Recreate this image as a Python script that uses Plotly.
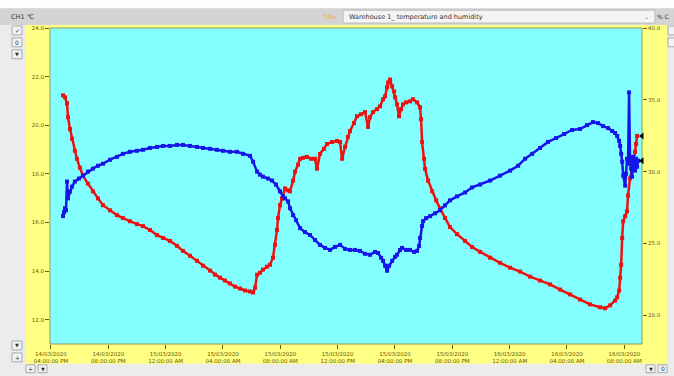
import pandas as pd
import plotly.graph_objects as go

# ---- logged readings (elapsed hours since 14/03/2020 04:00 PM) ----
red_hours = [0.84, 0.98, 1.12, 1.19, 1.33, 1.47, 1.67, 1.81, 2.02, 2.23, 2.58, 2.93, 3.28, 3.63,
             4.12, 4.61, 5.02, 5.51, 6.00, 6.42, 6.91, 7.40, 7.82, 8.30, 8.79, 9.21, 9.70, 10.19,
             10.61, 11.10, 11.44, 11.79, 12.14, 12.49, 12.84, 13.19, 13.54, 13.89, 14.10, 14.24,
             14.38, 14.58, 14.79, 15.07, 15.28, 15.49, 15.63, 15.77, 15.84, 15.98, 16.12, 16.33,
             16.54, 16.68, 16.89, 17.03, 17.24, 17.38, 17.59, 17.86, 18.14, 18.42, 18.56, 18.77,
             19.05, 19.26, 19.61, 19.96, 20.17, 20.31, 20.52, 20.72, 20.86, 21.14, 21.35, 21.63,
             21.91, 22.12, 22.26, 22.47, 22.75, 22.96, 23.17, 23.31, 23.45, 23.52, 23.66, 23.80,
             23.94, 24.01, 24.14, 24.28, 24.42, 24.56, 24.77, 25.05, 25.26, 25.54, 25.75, 25.82,
             25.89, 26.03, 26.10, 26.31, 26.59, 26.87, 27.14, 27.49, 27.84, 28.33, 28.89, 29.38,
             29.94, 30.64, 31.33, 32.03, 32.73, 33.43, 34.12, 34.82, 35.52, 36.22, 36.91, 37.61,
             38.31, 38.66, 39.01, 39.36, 39.50, 39.64, 39.71, 39.78, 39.85, 39.92, 40.06, 40.19,
             40.26, 40.40, 40.54, 40.61, 40.75, 40.82, 40.89]
red_temp = [21.23, 21.15, 20.90, 20.33, 19.84, 19.44, 18.95, 18.62, 18.25, 17.93, 17.60, 17.28,
            16.99, 16.71, 16.50, 16.30, 16.18, 16.05, 15.93, 15.85, 15.69, 15.48, 15.36, 15.24,
            15.04, 14.83, 14.63, 14.42, 14.22, 14.02, 13.85, 13.73, 13.61, 13.49, 13.36, 13.28,
            13.20, 13.16, 13.12, 13.32, 13.85, 13.93, 14.06, 14.18, 14.26, 14.55, 15.08, 15.69,
            16.18, 16.71, 16.99, 17.40, 17.32, 17.28, 17.72, 18.09, 18.38, 18.62, 18.66, 18.70,
            18.62, 18.62, 18.21, 18.82, 19.03, 19.23, 19.31, 19.35, 19.31, 18.62, 19.11, 19.52,
            19.76, 20.09, 20.37, 20.45, 20.54, 19.93, 20.33, 20.54, 20.66, 20.78, 21.07, 21.19,
            21.56, 21.76, 21.88, 21.60, 21.39, 21.15, 20.86, 20.37, 20.66, 20.86, 20.94, 20.98,
            21.07, 20.94, 20.74, 20.25, 19.31, 18.62, 18.21, 17.72, 17.28, 16.91, 16.58, 16.18,
            15.81, 15.52, 15.24, 14.99, 14.79, 14.55, 14.34, 14.14, 13.98, 13.77, 13.61, 13.45,
            13.24, 13.04, 12.83, 12.63, 12.51, 12.47, 12.59, 12.79, 12.92, 13.20, 13.73, 14.26,
            15.36, 16.05, 16.26, 16.46, 17.11, 17.81, 18.21, 18.42, 18.91, 19.23, 19.56]

blue_hours = [0.84, 0.91, 0.98, 1.05, 1.12, 1.19, 1.33, 1.47, 1.67, 1.95, 2.23, 2.58, 2.93, 3.28,
              3.63, 4.12, 4.61, 5.02, 5.51, 6.00, 6.42, 6.91, 7.40, 7.82, 8.30, 8.79, 9.21, 9.70,
              10.19, 10.61, 11.10, 11.58, 12.00, 12.49, 12.98, 13.40, 13.89, 14.10, 14.38, 14.58,
              14.79, 15.14, 15.42, 15.70, 15.98, 16.19, 16.33, 16.54, 16.68, 16.89, 17.10, 17.38,
              17.72, 18.07, 18.42, 18.77, 19.12, 19.47, 19.82, 20.17, 20.52, 20.86, 21.21, 21.56,
              21.91, 22.26, 22.61, 22.82, 23.03, 23.17, 23.31, 23.45, 23.59, 23.80, 24.01, 24.14,
              24.35, 24.49, 24.77, 25.05, 25.33, 25.54, 25.68, 25.75, 25.89, 25.96, 26.17, 26.45,
              26.80, 27.14, 27.49, 27.84, 28.33, 28.89, 29.38, 29.94, 30.64, 31.33, 32.03, 32.59,
              33.08, 33.57, 34.12, 34.68, 35.24, 35.80, 36.36, 36.91, 37.40, 37.82, 38.17, 38.52,
              38.87, 39.15, 39.36, 39.50, 39.64, 39.71, 39.78, 39.85, 39.92, 40.06, 40.12, 40.19,
              40.26, 40.33, 40.40, 40.47, 40.54, 40.61, 40.68, 40.75, 40.82, 40.89, 40.96]
blue_rh = [26.90, 27.17, 27.45, 27.31, 29.31, 28.14, 28.62, 28.96, 29.31, 29.52, 29.72, 30.00,
           30.21, 30.41, 30.55, 30.83, 31.03, 31.24, 31.38, 31.45, 31.52, 31.65, 31.72, 31.79,
           31.79, 31.86, 31.86, 31.79, 31.72, 31.65, 31.59, 31.52, 31.45, 31.38, 31.38, 31.24,
           31.10, 30.69, 30.00, 29.79, 29.65, 29.52, 29.38, 29.10, 28.62, 28.28, 28.14, 27.93,
           27.45, 26.97, 26.62, 26.07, 25.79, 25.59, 25.24, 24.90, 24.69, 24.55, 24.76, 24.90,
           24.62, 24.55, 24.55, 24.48, 24.28, 24.21, 24.41, 24.34, 24.00, 23.79, 23.45, 23.10,
           23.45, 23.79, 24.07, 24.21, 24.55, 24.69, 24.55, 24.55, 24.41, 24.48, 24.83, 25.38,
           26.21, 26.55, 26.76, 26.90, 27.10, 27.31, 27.65, 28.00, 28.28, 28.55, 28.90, 29.10,
           29.38, 29.72, 30.07, 30.41, 30.90, 31.24, 31.65, 32.07, 32.34, 32.62, 32.90, 32.97,
           33.24, 33.45, 33.38, 33.17, 33.03, 32.83, 32.69, 32.48, 32.14, 31.79, 31.24, 30.69,
           29.72, 29.03, 29.86, 30.90, 30.55, 35.52, 30.90, 30.21, 29.65, 31.03, 30.55, 30.07,
           30.90, 30.34, 30.76]

# axis ticks
tick_times = pd.date_range("2020-03-14 16:00", "2020-03-16 08:00", freq="4h")
tick_text = [t.strftime("%d/%m/%Y") + "<br>" + t.strftime("%I:%M:%S %p") for t in tick_times]
temp_ticks = [12, 14, 16, 18, 20, 22, 24]
rh_ticks = [20, 25, 30, 35, 40]

START = pd.Timestamp("2020-03-14 16:00")
red_t = START + pd.to_timedelta(red_hours, unit="h")
blue_t = START + pd.to_timedelta(blue_hours, unit="h")
X_RANGE = ["2020-03-14 15:56", "2020-03-16 09:14"]

W, H = 674, 376
L, R, T, B = 50, 32, 28, 29
PW, PH = W - L - R, H - T - B


def px(x):
    return (x - L) / PW


def py(y):
    return (H - B - y) / PH


AX_COL = "#6b5800"
TICK_FONT = dict(family="DejaVu Sans", size=5.5, color=AX_COL)

fig = go.Figure()
fig.add_trace(go.Scatter(
    x=red_t, y=red_temp, mode="lines+markers", name="CH1 ℃",
    line=dict(color="#ec1212", width=2.5),
    marker=dict(symbol="square", size=4, color="#ec1212"),
))
fig.add_trace(go.Scatter(
    x=blue_t, y=blue_rh, mode="lines+markers", name="%", yaxis="y2",
    line=dict(color="#1616e8", width=2.5),
    marker=dict(symbol="square", size=4, color="#1616e8"),
))
# current-value pointers on the right edge
end_t = pd.Timestamp(X_RANGE[1])
fig.add_trace(go.Scatter(x=[end_t], y=[red_temp[-1]], mode="markers", cliponaxis=False,
                         marker=dict(symbol="triangle-left", size=6, color="black")))
fig.add_trace(go.Scatter(x=[end_t], y=[blue_rh[-1]], mode="markers", yaxis="y2", cliponaxis=False,
                         marker=dict(symbol="triangle-left", size=6, color="black")))

shapes = []
annots = []

# window chrome
shapes.append(dict(type="rect", xref="paper", yref="paper", x0=px(0), x1=px(W), y0=py(8), y1=py(0),
                   fillcolor="white", line_width=0, layer="below"))
shapes.append(dict(type="rect", xref="paper", yref="paper", x0=px(0), x1=px(W), y0=py(25), y1=py(8),
                   fillcolor="#d4d4d4", line_width=0, layer="below"))
# yellow axis panel
shapes.append(dict(type="rect", xref="paper", yref="paper", x0=px(26), x1=px(667), y0=py(367), y1=py(25),
                   fillcolor="#ffff84", line_width=0, layer="below"))
# cyan plotting area
shapes.append(dict(type="rect", xref="paper", yref="paper", x0=0, x1=1, y0=0, y1=1,
                   fillcolor="#84ffff", line=dict(color="#8c9a60", width=1), layer="below"))
# title selector box
shapes.append(dict(type="rect", xref="paper", yref="paper", x0=px(343), x1=px(655), y0=py(23), y1=py(10),
                   fillcolor="#f4f4f4", line=dict(color="#b8b8b8", width=1), layer="below"))


def button(x0, y0, x1, y1, label=None, size=6):
    shapes.append(dict(type="rect", xref="paper", yref="paper", x0=px(x0), x1=px(x1), y0=py(y1), y1=py(y0),
                       fillcolor="#f2f2f2", line=dict(color="#a8a8a8", width=1), layer="below"))
    if label:
        annots.append(dict(xref="paper", yref="paper", x=px((x0 + x1) / 2), y=py((y0 + y1) / 2),
                           text=label, showarrow=False, xanchor="center", yanchor="middle",
                           font=dict(family="DejaVu Sans", size=size, color="#333333")))


button(12, 26, 22, 35, "✓")
button(12, 38, 22, 47, "0")
button(12, 50, 22, 59, "▼", 5)
button(12, 344, 22, 353, "▼", 5)
button(12, 356, 22, 365, "+")
button(26, 368, 35, 376, "+")
button(38, 368, 47, 376, "▼", 5)
button(646, 368, 655, 376, "▼", 5)
button(658, 368, 667, 376, "0")
button(668, 26, 678, 35)
button(668, 38, 678, 47)

annots.append(dict(xref="paper", yref="paper", x=px(9), y=py(16.5), text="CH1 ℃", showarrow=False,
                   xanchor="left", yanchor="middle", font=dict(family="DejaVu Sans", size=6.5, color="#333333")))
annots.append(dict(xref="paper", yref="paper", x=px(338), y=py(16.5), text="Title", showarrow=False,
                   xanchor="right", yanchor="middle", font=dict(family="DejaVu Sans", size=6, color="#f0a848")))
annots.append(dict(xref="paper", yref="paper", x=px(347), y=py(16.5),
                   text="Warehouse 1_ temperature and humidity", showarrow=False,
                   xanchor="left", yanchor="middle", font=dict(family="DejaVu Sans", size=6.5, color="#333333")))
annots.append(dict(xref="paper", yref="paper", x=px(646), y=py(16.5), text="⌄", showarrow=False,
                   xanchor="center", yanchor="middle", font=dict(family="DejaVu Sans", size=6, color="#777777")))
annots.append(dict(xref="paper", yref="paper", x=px(671), y=py(16.5), text="% C", showarrow=False,
                   xanchor="right", yanchor="middle", font=dict(family="DejaVu Sans", size=6, color="#333333")))

fig.update_layout(
    width=W, height=H,
    margin=dict(l=L, r=R, t=T, b=B, pad=0),
    paper_bgcolor="#ececec",
    plot_bgcolor="rgba(0,0,0,0)",
    showlegend=False,
    shapes=shapes,
    annotations=annots,
    xaxis=dict(
        type="date", range=X_RANGE, tickvals=tick_times, ticktext=tick_text,
        showgrid=False, zeroline=False, showline=False,
        ticks="outside", ticklen=4, tickcolor=AX_COL, tickwidth=1,
        tickfont=TICK_FONT,
    ),
    yaxis=dict(
        range=[11, 24], tickvals=temp_ticks, tickformat=".1f",
        showgrid=False, zeroline=False, showline=False,
        ticks="outside", ticklen=4, tickcolor=AX_COL, tickwidth=1,
        tickfont=TICK_FONT,
    ),
    yaxis2=dict(
        range=[18, 40], tickvals=rh_ticks, tickformat=".1f", overlaying="y", side="right",
        showgrid=False, zeroline=False, showline=False,
        ticks="outside", ticklen=4, tickcolor=AX_COL, tickwidth=1,
        tickfont=TICK_FONT,
    ),
)

fig.write_html("out.html")
